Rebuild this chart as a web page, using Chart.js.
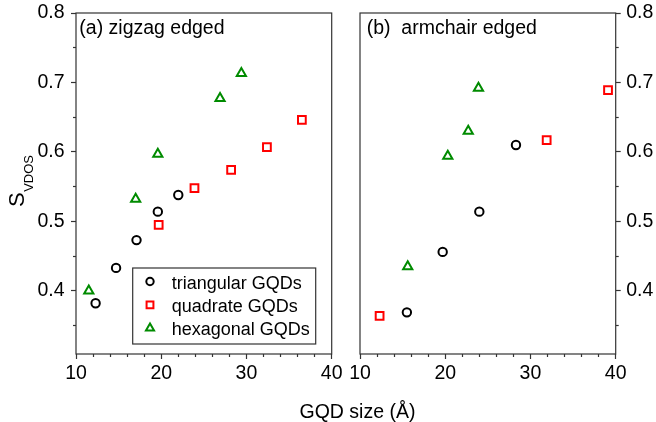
<!DOCTYPE html>
<html>
<head>
<meta charset="utf-8">
<script src="https://cdn.jsdelivr.net/npm/chart.js@4/dist/chart.umd.min.js"></script>
<style>
  html, body { margin: 0; padding: 0; background: #fff; }
  #wrap { position: relative; width: 656px; height: 422px; }
  #wrap canvas { position: absolute; left: 0; top: 0; }
</style>
</head>
<body>
<div id="wrap">
  <canvas id="zz" width="656" height="422"></canvas>
  <canvas id="ac" width="656" height="422"></canvas>
</div>
<script>
// (a) zigzag edged
const triX_zz = [12.3, 14.7, 17.1, 19.6, 22.0];
const triY_zz = [0.382, 0.433, 0.473, 0.514, 0.538];
const quadX_zz = [19.7, 23.9, 28.2, 32.4, 36.5];
const quadY_zz = [0.495, 0.548, 0.574, 0.607, 0.646];
const hexX_zz = [11.5, 17.0, 19.6, 26.9, 29.4];
const hexY_zz = [0.400, 0.532, 0.597, 0.677, 0.713];

// (b) armchair edged
const triX_ac = [15.5, 19.7, 24.0, 28.3];
const triY_ac = [0.369, 0.456, 0.514, 0.610];
const quadX_ac = [12.3, 31.9, 39.1];
const quadY_ac = [0.364, 0.617, 0.689];
const hexX_ac = [15.6, 20.3, 22.7, 23.9];
const hexY_ac = [0.435, 0.594, 0.630, 0.692];

// axes
const xTicks = [10, 20, 30, 40];
const xMinor = [12, 14, 16, 18, 22, 24, 26, 28, 32, 34, 36, 38];
const yTicks = [0.4, 0.5, 0.6, 0.7, 0.8];
const yMinor = [0.35, 0.45, 0.55, 0.65, 0.75];

const seriesNames = ['triangular GQDs', 'quadrate GQDs', 'hexagonal GQDs'];
const seriesColors = ['#000000', '#ff0000', '#008b00'];
const seriesShapes = ['circle', 'rect', 'triangle'];
const seriesRadius = [4.2, 5.5, 5.3];

const FONT = '"Liberation Sans", Arial, Helvetica, sans-serif';
const AXIS = '#333';

function pts(xs, ys) {
    return xs.map((x, i) => ({x: x, y: ys[i]}));
}

function makeDatasets(groups) {
    return groups.map((g, i) => ({
        label: seriesNames[i],
        data: pts(g[0], g[1]),
        pointStyle: seriesShapes[i],
        pointRadius: seriesRadius[i],
        pointBorderWidth: 2,
        borderColor: seriesColors[i],
        backgroundColor: 'rgba(0,0,0,0)',
        showLine: false
    }));
}

function setTicks(list) {
    return s => { s.ticks = list.map(v => ({value: v})); };
}

function makeScales(side, yWidth) {
    const tickFont = {family: FONT, size: 19.5};
    return {
        x: {
            type: 'linear', position: 'bottom', min: 10, max: 40, weight: 0,
            afterBuildTicks: setTicks(xTicks),
            afterFit: s => { s.height = 40; s.paddingLeft = 0; s.paddingRight = 0; },
            grid: {drawOnChartArea: false, tickLength: 5, tickColor: AXIS, tickWidth: 1.2},
            border: {display: false},
            ticks: {font: tickFont, color: '#000', padding: 3, maxRotation: 0, autoSkip: false,
                    callback: v => String(v)}
        },
        xm: {
            type: 'linear', position: 'bottom', min: 10, max: 40, weight: -1,
            afterBuildTicks: setTicks(xMinor),
            afterFit: s => { s.height = 0; s.paddingLeft = 0; s.paddingRight = 0; },
            grid: {drawOnChartArea: false, tickLength: 3, tickColor: AXIS, tickWidth: 1.2},
            border: {display: false},
            ticks: {display: false}
        },
        y: {
            type: 'linear', position: side, min: 0.309, max: 0.8, weight: 0,
            afterBuildTicks: setTicks(yTicks),
            afterFit: s => { s.width = yWidth; s.paddingTop = 0; s.paddingBottom = 0; },
            grid: {drawOnChartArea: false, tickLength: 5, tickColor: AXIS, tickWidth: 1.2},
            border: {display: false},
            ticks: {font: tickFont, color: '#000', padding: side === 'left' ? 6.5 : 5.5,
                    autoSkip: false, callback: v => v.toFixed(1)}
        },
        ym: {
            type: 'linear', position: side, min: 0.309, max: 0.8, weight: -1,
            afterBuildTicks: setTicks(yMinor),
            afterFit: s => { s.width = 0; s.paddingTop = 0; s.paddingBottom = 0; },
            grid: {drawOnChartArea: false, tickLength: 3, tickColor: AXIS, tickWidth: 1.2},
            border: {display: false},
            ticks: {display: false}
        }
    };
}

// frame round the plot area and the panel tag
const framePlugin = {
    id: 'frame',
    beforeDatasetsDraw(chart, args, opts) {
        const a = chart.chartArea, ctx = chart.ctx;
        ctx.save();
        ctx.strokeStyle = AXIS;
        ctx.lineWidth = 1.2;
        ctx.strokeRect(a.left, a.top, a.right - a.left, a.bottom - a.top);
        ctx.fillStyle = '#000';
        ctx.font = '19.5px ' + FONT;
        ctx.textBaseline = 'alphabetic';
        ctx.fillText(opts.text, a.left + opts.dx, a.top + 21);
        ctx.restore();
    }
};

// boxed legend, lower right of panel (a)
const boxLegend = {
    id: 'boxLegend',
    afterDraw(chart, args, opts) {
        if (!opts.show) return;
        const a = chart.chartArea, ctx = chart.ctx;
        const w = 183, h = 76;
        const left = a.right - 16 - w, top = a.bottom - 10 - h;
        ctx.save();
        ctx.fillStyle = '#fff';
        ctx.fillRect(left, top, w, h);
        ctx.strokeStyle = AXIS;
        ctx.lineWidth = 1.2;
        ctx.strokeRect(left, top, w, h);
        ctx.font = '18px ' + FONT;
        ctx.textBaseline = 'alphabetic';
        chart.data.datasets.forEach((ds, i) => {
            const cy = top + 13.5 + i * 23.3;
            ctx.strokeStyle = ds.borderColor;
            ctx.fillStyle = 'rgba(0,0,0,0)';
            ctx.lineWidth = 2;
            Chart.helpers.drawPoint(ctx, {pointStyle: ds.pointStyle, radius: ds.pointRadius * 0.88,
                borderWidth: 2, rotation: 0}, left + 17.3, cy);
            ctx.fillStyle = '#000';
            ctx.fillText(ds.label, left + 39, cy + 7);
        });
        ctx.restore();
    }
};

// axis titles
const axisTitles = {
    id: 'axisTitles',
    afterDraw(chart, args, opts) {
        const ctx = chart.ctx;
        ctx.save();
        ctx.fillStyle = '#000';
        if (opts.y) {
            ctx.translate(23.5, 207);
            ctx.rotate(-Math.PI / 2);
            ctx.font = '22px ' + FONT;
            ctx.fillText('S', 0, 0);
            const sw = ctx.measureText('S').width;
            ctx.font = '13px ' + FONT;
            ctx.fillText('VDOS', sw + 0.5, 9);
        }
        if (opts.x) {
            ctx.font = '19.5px ' + FONT;
            ctx.textAlign = 'center';
            ctx.fillText('GQD size (\u00C5)', 357.5, 418);
        }
        ctx.restore();
    }
};

function makeChart(id, groups, pad, side, yWidth, tag, dx, titles, legendOn) {
    return new Chart(document.getElementById(id), {
        type: 'scatter',
        data: {datasets: makeDatasets(groups)},
        options: {
            responsive: false,
            animation: false,
            layout: {padding: pad},
            scales: makeScales(side, yWidth),
            plugins: {
                legend: {display: false},
                tooltip: {enabled: false},
                frame: {text: tag, dx: dx},
                boxLegend: {show: legendOn},
                axisTitles: titles
            }
        },
        plugins: [framePlugin, boxLegend, axisTitles]
    });
}

makeChart('zz', [[triX_zz, triY_zz], [quadX_zz, quadY_zz], [hexX_zz, hexY_zz]],
    {left: 0, right: 324.3, top: 13, bottom: 28}, 'left', 76,
    '(a) zigzag edged', 3.3, {y: true, x: false}, true);

makeChart('ac', [[triX_ac, triY_ac], [quadX_ac, quadY_ac], [hexX_ac, hexY_ac]],
    {left: 360, right: 0, top: 13, bottom: 28}, 'right', 40.3,
    '(b)  armchair edged', 6.7, {y: false, x: true}, false);
</script>
</body>
</html>
